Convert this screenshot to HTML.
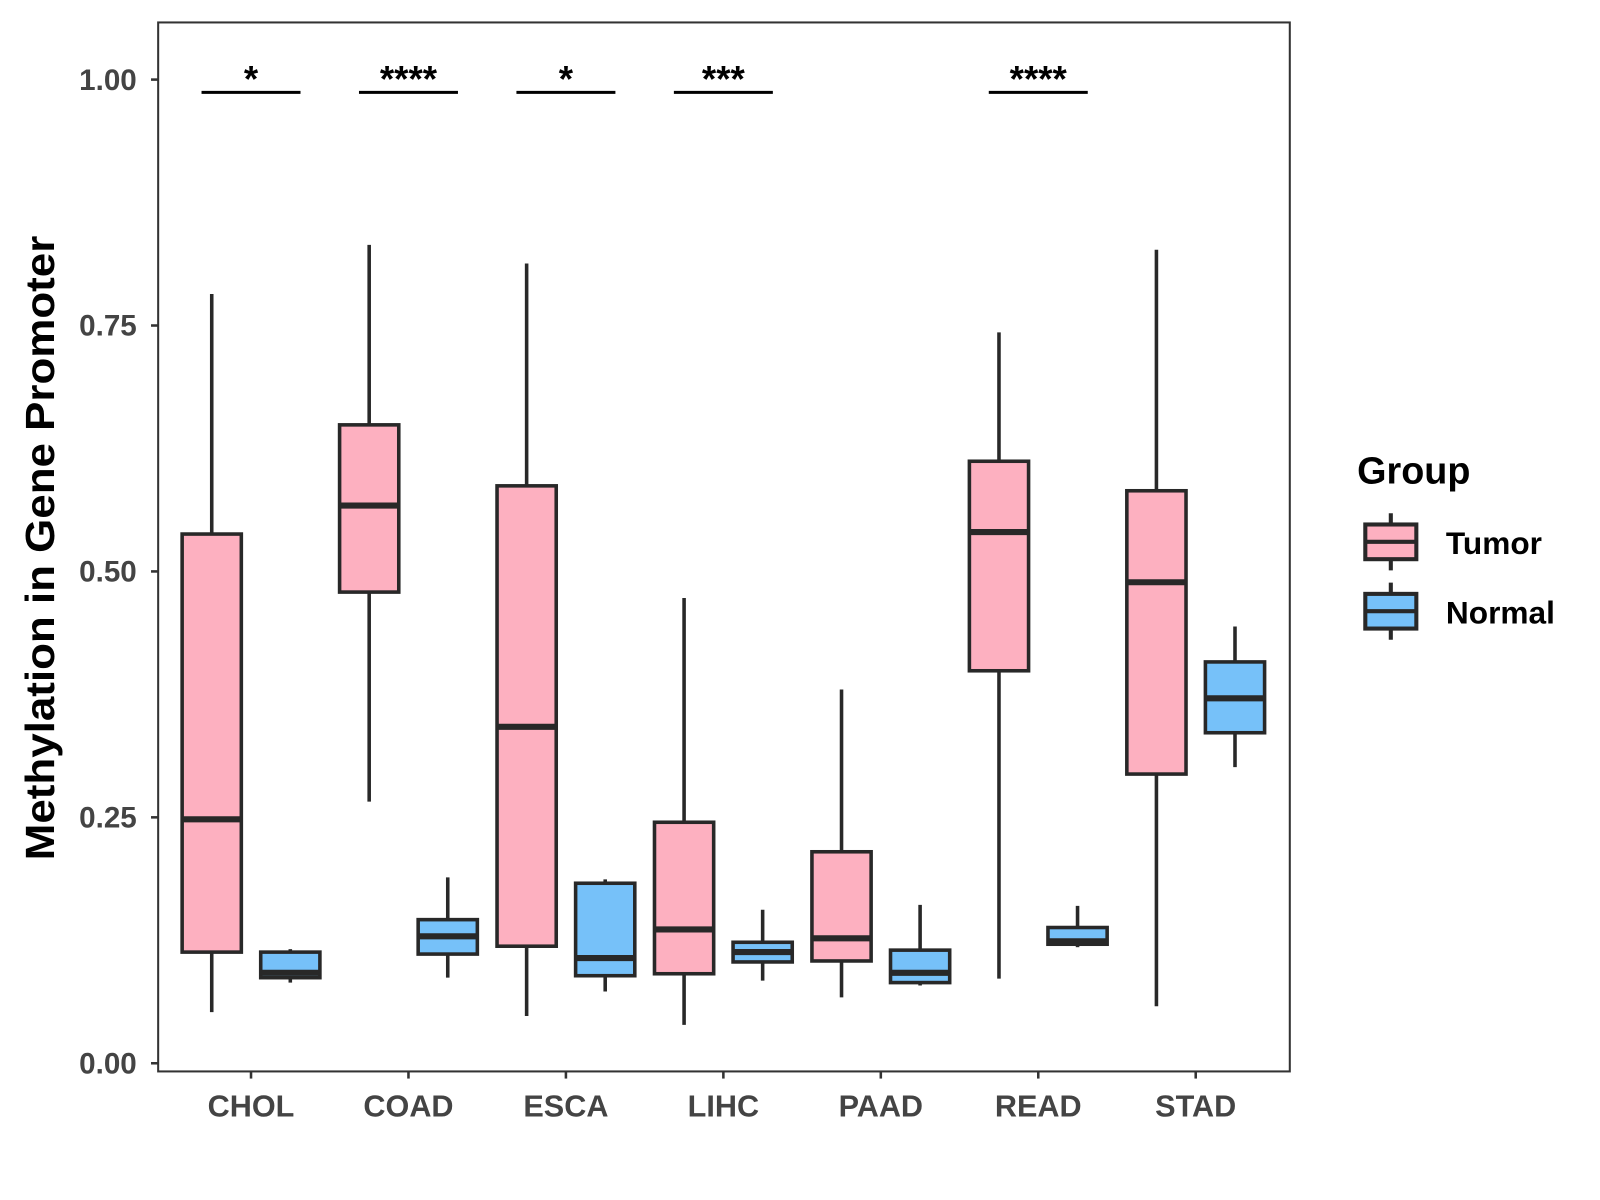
<!DOCTYPE html>
<html><head><meta charset="utf-8"><style>
html,body{margin:0;padding:0;background:#fff}
svg{display:block}
text{font-family:"Liberation Sans",Arial,sans-serif;font-weight:bold}
</style></head><body>
<svg id="chart" width="1600" height="1200" viewBox="0 0 1568 1176" xmlns="http://www.w3.org/2000/svg">
<rect x="0" y="0" width="1568" height="1176" fill="#fff"/>
<g id="marks"></g>
<rect x="155" y="22" width="1109" height="1028" fill="none" stroke="#333" stroke-width="2"/>
<text transform="translate(53,537) rotate(-90)" text-anchor="middle" font-size="40" textLength="612" lengthAdjust="spacingAndGlyphs" fill="#000">Methylation in Gene Promoter</text>
<g>
<text x="1330" y="474" font-size="37" fill="#000">Group</text>
<g>
<line x1="1363" y1="503" x2="1363" y2="559" stroke="#282828" stroke-width="4"/>
<rect x="1338" y="514" width="50" height="34" fill="#FDB0C0" stroke="#282828" stroke-width="4"/>
<line x1="1338" y1="531" x2="1388" y2="531" stroke="#282828" stroke-width="4"/>
<text x="1417" y="543" font-size="31" fill="#000">Tumor</text>
</g>
<g>
<line x1="1363" y1="571" x2="1363" y2="627" stroke="#282828" stroke-width="4"/>
<rect x="1338" y="582" width="50" height="34" fill="#76C1F9" stroke="#282828" stroke-width="4"/>
<line x1="1338" y1="599" x2="1388" y2="599" stroke="#282828" stroke-width="4"/>
<text x="1417" y="611" font-size="31" fill="#000">Normal</text>
</g>
</g>
</svg>
<script>
const categories = ["CHOL","COAD","ESCA","LIHC","PAAD","READ","STAD"];
// [min, q1, median, q3, max]
const tumorStats = [
  [0.052,0.113,0.248,0.538,0.782],
  [0.266,0.479,0.567,0.649,0.832],
  [0.048,0.119,0.342,0.587,0.813],
  [0.039,0.091,0.136,0.245,0.473],
  [0.067,0.104,0.127,0.215,0.380],
  [0.086,0.399,0.540,0.612,0.743],
  [0.058,0.294,0.489,0.582,0.827]
];
const normalStats = [
  [0.082,0.087,0.092,0.113,0.116],
  [0.087,0.111,0.129,0.146,0.189],
  [0.073,0.089,0.107,0.183,0.187],
  [0.084,0.103,0.113,0.123,0.156],
  [0.079,0.082,0.092,0.115,0.161],
  [0.118,0.121,0.124,0.138,0.160],
  [0.301,0.336,0.371,0.408,0.444]
];
const significance = ["*","****","*","***","","****",""];
const yTicks = [0,0.25,0.5,0.75,1.0];
const yTickLabels = ["0.00","0.25","0.50","0.75","1.00"];
const sigLevel = 0.987;

const NS = "http://www.w3.org/2000/svg";
const g = document.getElementById("marks");
const svg = document.getElementById("chart");
function yScale(v){ return 1042 - v*964; }
function xScale(i){ return 246 + i*154.3; }
function mk(tag, attrs, parent){
  const e = document.createElementNS(NS, tag);
  for (const k in attrs) e.setAttribute(k, attrs[k]);
  (parent||g).appendChild(e);
  return e;
}
yTicks.forEach((t,i)=>{
  const y = yScale(t);
  const l = mk("line",{x1:148,x2:155,y1:y,y2:y,stroke:"#333","stroke-width":2.5},svg);
  
  
  const tx = mk("text",{x:134,y:y+10,"text-anchor":"end","font-size":29,fill:"#444"},svg);
  tx.textContent = yTickLabels[i];
  
  
});
categories.forEach((c,i)=>{
  const x = xScale(i);
  const l = mk("line",{x1:x,x2:x,y1:1050,y2:1057,stroke:"#333","stroke-width":2.5},svg);
  
  
  const tx = mk("text",{x:x,y:1094,"text-anchor":"middle","font-size":30,fill:"#444"},svg);
  tx.textContent = c;
  
  
});
function drawBox(cx, s, fill, name){
  const grp = mk("g",{});
  
  
  const w = 58;
  mk("line",{x1:cx,x2:cx,y1:yScale(s[0]),y2:yScale(s[4]),stroke:"#282828","stroke-width":3.5},grp);
  mk("rect",{x:cx-w/2,y:yScale(s[3]),width:w,height:yScale(s[1])-yScale(s[3]),fill:fill,stroke:"#282828","stroke-width":3.5},grp);
  mk("line",{x1:cx-w/2,x2:cx+w/2,y1:yScale(s[2]),y2:yScale(s[2]),stroke:"#282828","stroke-width":6},grp);
}
categories.forEach((c,i)=>{
  const x = xScale(i);
  drawBox(x-38.5, tumorStats[i], "#FDB0C0", "box-tumor-"+c.toLowerCase());
  drawBox(x+38.5, normalStats[i], "#76C1F9", "box-normal-"+c.toLowerCase());
  if (significance[i]) {
    const y = yScale(sigLevel);
    const l = mk("line",{x1:x-48.5,x2:x+48.5,y1:y,y2:y,stroke:"#000","stroke-width":3});
    
    
    const t = mk("text",{x:x,y:y-1,"text-anchor":"middle","font-size":36,fill:"#000"});
    t.textContent = significance[i];
    
    
  }
});
</script>
</body></html>
